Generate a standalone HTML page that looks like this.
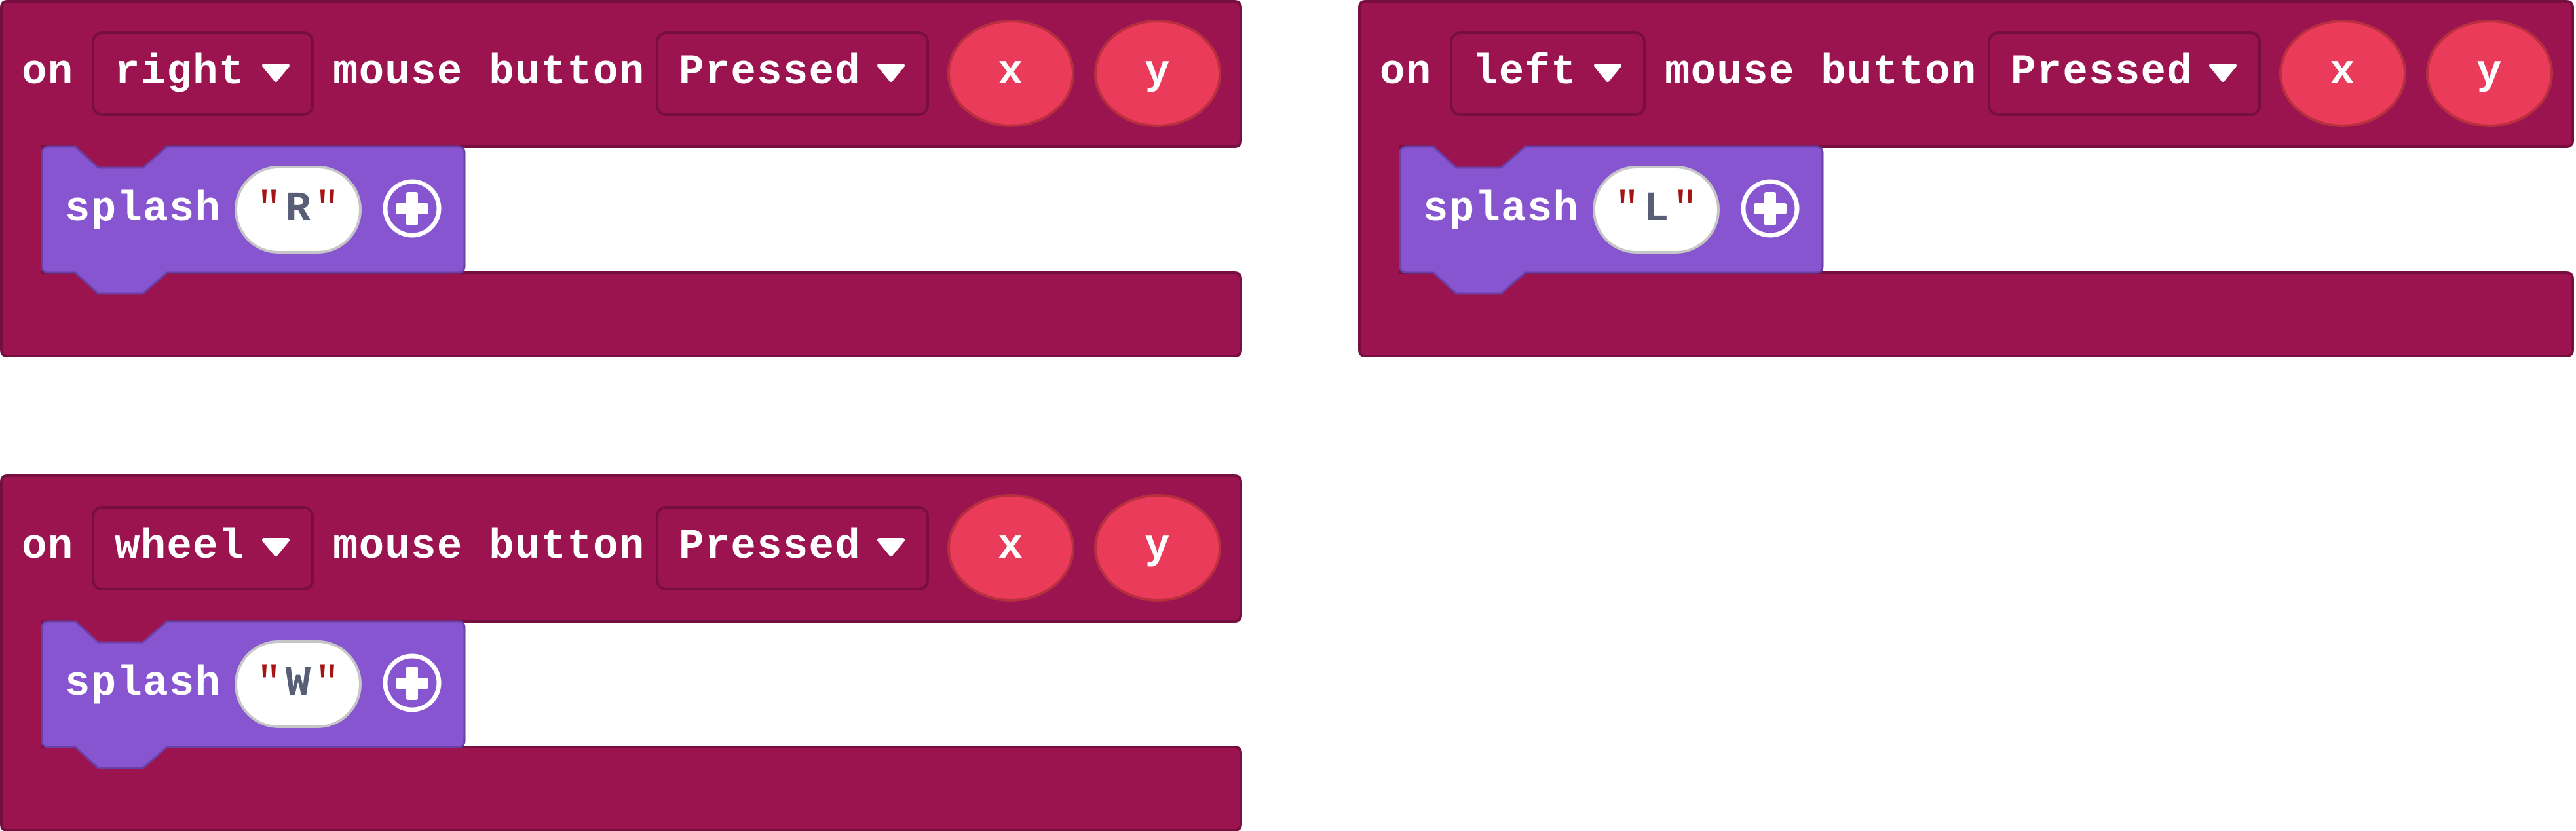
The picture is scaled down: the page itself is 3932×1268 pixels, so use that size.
<!DOCTYPE html>
<html><head><meta charset="utf-8"><style>
html,body{margin:0;padding:0;background:#fff;}
svg{display:block;}
text{font-family:"Liberation Mono",monospace;font-weight:bold;font-size:64px;fill:#fff;letter-spacing:1.3px;}
.q{fill:#a31515;font-weight:normal;}
.v{fill:#575e75;}
.s{letter-spacing:6px;}
</style></head><body>
<svg width="3932" height="1268" viewBox="0 0 3932 1268" xmlns="http://www.w3.org/2000/svg">
<defs>
<g id="stmt">
<polygon points="112,220 150,258 218,258 258,220" fill="#9b1450"/>
<path d="M74,224 H115 L150,256 H218 L255,224 H699 Q709,224 709,234 V406 Q709,416 699,416 H255 L218,448 H150 L115,416 H74 Q64,416 64,406 V234 Q64,224 74,224 Z" fill="#8855d0" stroke="#6b3fa5" stroke-width="3"/>
<rect x="360" y="255" width="190" height="130" rx="65" fill="#fff" stroke="#c6c6c6" stroke-width="4"/>
<circle cx="629" cy="318" r="41" fill="none" stroke="#fff" stroke-width="7"/>
<rect x="604" y="310" width="50" height="17" rx="3" fill="#fff"/>
<rect x="620" y="293" width="18" height="51" rx="3" fill="#fff"/>
<text x="99" y="336">splash</text>
</g>
<g id="tail">
<rect x="1003" y="50" width="413" height="125" rx="14" fill="#9b1450" stroke="#760f3f" stroke-width="4"/>
<text x="1036" y="127">Pressed</text>
<polygon points="1342,100 1378,100 1360,122" fill="#fff" stroke="#fff" stroke-width="6" stroke-linejoin="round"/>
<ellipse cx="1543" cy="112" rx="95" ry="80" fill="#eb3b5a" stroke="#b8303f" stroke-width="4"/>
<text x="1543" y="127" text-anchor="middle">x</text>
<ellipse cx="1767" cy="112" rx="95" ry="80" fill="#eb3b5a" stroke="#b8303f" stroke-width="4"/>
<text x="1767" y="127" text-anchor="middle">y</text>
</g>
</defs>

<!-- Block 1 -->
<g>
<path d="M11,2 H1884 Q1894,2 1894,12 V214 Q1894,224 1884,224 H64 V416 H1884 Q1894,416 1894,426 V533 Q1894,543 1884,543 H11 Q2,543 2,533 V12 Q2,2 11,2 Z" fill="#9b1450" stroke="#760f3f" stroke-width="4"/>
<text x="33" y="127">on</text>
<rect x="142" y="50" width="335" height="125" rx="14" fill="#9b1450" stroke="#760f3f" stroke-width="4"/>
<text x="175" y="127">right</text>
<polygon points="403,100 439,100 421,122" fill="#fff" stroke="#fff" stroke-width="6" stroke-linejoin="round"/>
<text x="508" y="127">mouse button</text>
<use href="#tail"/>
<use href="#stmt"/>
<text class="s" x="458" y="336" text-anchor="middle"><tspan class="q">"</tspan><tspan class="v">R</tspan><tspan class="q">"</tspan></text>
</g>

<!-- Block 2 -->
<g transform="translate(2073,0)">
<path d="M11,2 H1844 Q1854,2 1854,12 V214 Q1854,224 1844,224 H64 V416 H1844 Q1854,416 1854,426 V533 Q1854,543 1844,543 H11 Q2,543 2,533 V12 Q2,2 11,2 Z" fill="#9b1450" stroke="#760f3f" stroke-width="4"/>
<text x="33" y="127">on</text>
<rect x="142" y="50" width="295" height="125" rx="14" fill="#9b1450" stroke="#760f3f" stroke-width="4"/>
<text x="175" y="127">left</text>
<polygon points="363,100 399,100 381,122" fill="#fff" stroke="#fff" stroke-width="6" stroke-linejoin="round"/>
<text x="468" y="127">mouse button</text>
<g transform="translate(-40,0)"><use href="#tail"/></g>
<use href="#stmt"/>
<text class="s" x="458" y="336" text-anchor="middle"><tspan class="q">"</tspan><tspan class="v">L</tspan><tspan class="q">"</tspan></text>
</g>

<!-- Block 3 -->
<g transform="translate(0,724)">
<path d="M11,2 H1884 Q1894,2 1894,12 V214 Q1894,224 1884,224 H64 V416 H1884 Q1894,416 1894,426 V533 Q1894,543 1884,543 H11 Q2,543 2,533 V12 Q2,2 11,2 Z" fill="#9b1450" stroke="#760f3f" stroke-width="4"/>
<text x="33" y="127">on</text>
<rect x="142" y="50" width="335" height="125" rx="14" fill="#9b1450" stroke="#760f3f" stroke-width="4"/>
<text x="175" y="127">wheel</text>
<polygon points="403,100 439,100 421,122" fill="#fff" stroke="#fff" stroke-width="6" stroke-linejoin="round"/>
<text x="508" y="127">mouse button</text>
<use href="#tail"/>
<use href="#stmt"/>
<text class="s" x="458" y="336" text-anchor="middle"><tspan class="q">"</tspan><tspan class="v">W</tspan><tspan class="q">"</tspan></text>
</g>
</svg>
</body></html>
